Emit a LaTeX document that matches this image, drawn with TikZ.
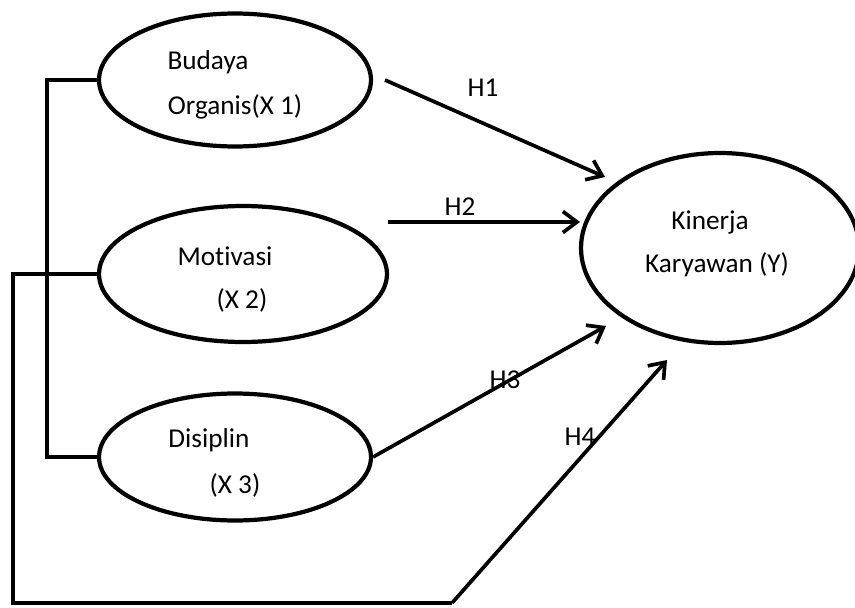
\documentclass[tikz,border=0pt]{standalone}
\usepackage{fontspec}
\setmainfont{Carlito}[Ligatures=NoCommon]
\usetikzlibrary{arrows.meta,shapes.geometric}

\begin{document}
\begin{tikzpicture}[x=0.02cm,y=-0.02cm,
	every node/.style={font=\fontsize{15.5}{18}\selectfont},
	var/.style={draw,ellipse,line width=2.4pt},
	link/.style={line width=2.1pt},
	arr/.style={line width=2.1pt,-{Straight Barb[length=8pt,width=12pt,line width=2.1pt]}}]
	\useasboundingbox (0,0) rectangle (855,608);
	\node[var,minimum width=5.44cm,minimum height=2.66cm] (x1) at (235,80) {};
	\node[var,minimum width=5.76cm,minimum height=2.72cm] (x2) at (243,274) {};
	\node[var,minimum width=5.44cm,minimum height=2.54cm] (x3) at (235,457) {};
	\node[var,minimum width=5.56cm,minimum height=3.8cm] (y) at (720,248) {};

	\node (x1a) at (208,62) {Budaya};
	\node (x1b) at (235,107) {Organis(X 1)};
	\node (x2a) at (225,256) {Motivasi};
	\node (x2b) at (242,300) {(X 2)};
	\node (x3a) at (209,440) {Disiplin};
	\node (x3b) at (235,485) {(X 3)};
	\node (ya) at (710,222) {Kinerja};
	\node (yb) at (717,265) {Karyawan (Y)};

	\coordinate (bl) at (47,80);
	\coordinate (ol) at (13,274);
	\coordinate (oc) at (13,603);
	\coordinate (h1a) at (385,80);
	\coordinate (h1b) at (605,177);
	\coordinate (h2a) at (388,222);
	\coordinate (h2b) at (580,222);
	\coordinate (h3b) at (606,326);
	\coordinate (h4a) at (452,603);
	\coordinate (h4b) at (667,360);

	\draw[link] (x1.west) -- (bl) |- (x3.west);
	\draw[link] (x2.west) -- (ol) -- (oc) -- (h4a);
	\draw[arr] (h1a) -- (h1b);
	\draw[arr] (h2a) -- (h2b);
	\draw[arr] (x3.east) -- (h3b);
	\draw[arr] (h4a) -- (h4b);

	\node (h1) at (483,88) {H1};
	\node (h2) at (460,207) {H2};
	\node (h3) at (505,380) {H3};
	\node (h4) at (580,437) {H4};
\end{tikzpicture}
\end{document}
